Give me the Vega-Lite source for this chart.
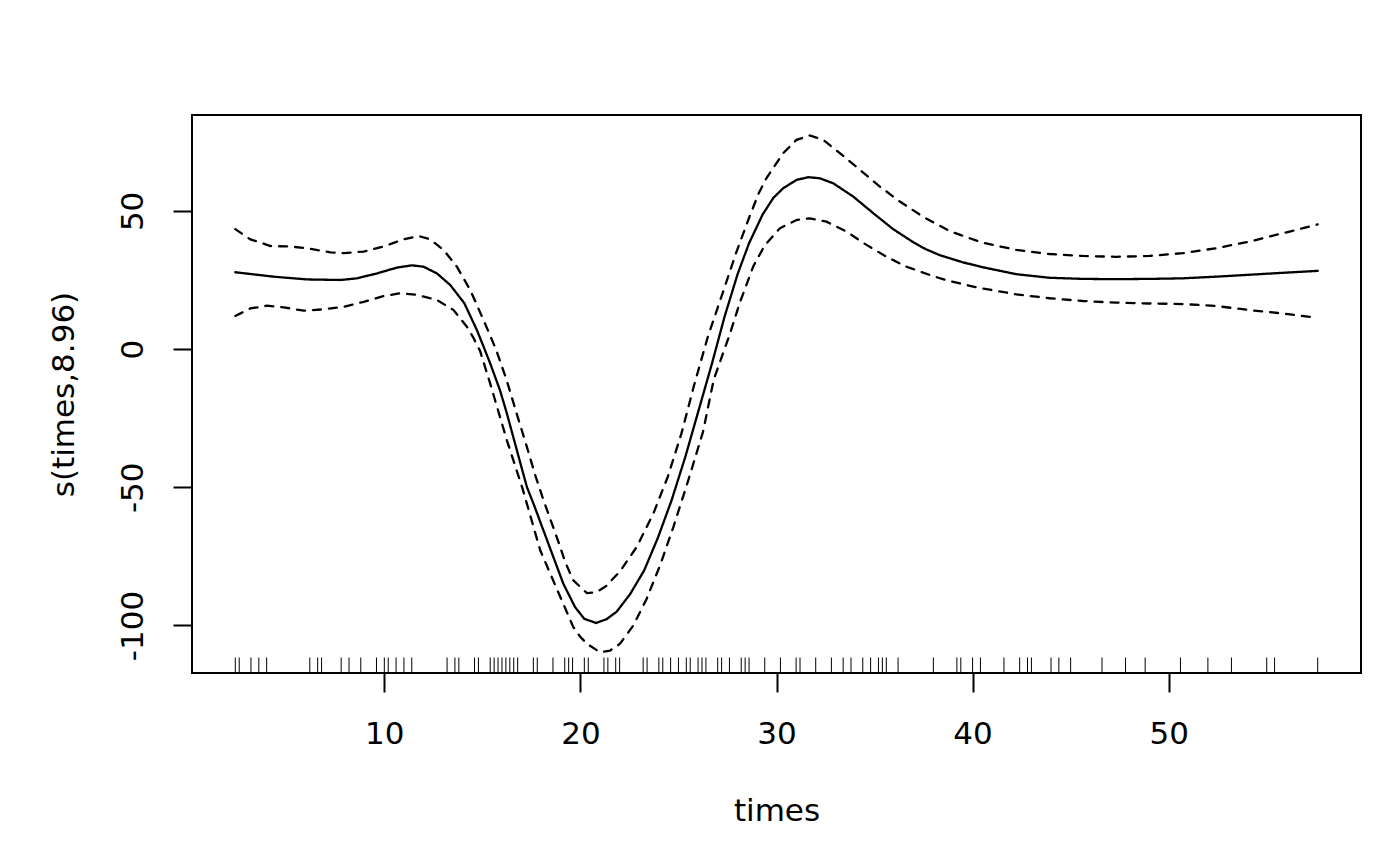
{
  "$schema": "https://vega.github.io/schema/vega-lite/v6.json",
  "width": 1169,
  "height": 558,
  "autosize": {"type": "none"},
  "padding": {"left": 192, "top": 115, "right": 39, "bottom": 193},
  "background": "white",
  "config": {
    "view": {"stroke": "black", "strokeWidth": 2},
    "font": "DejaVu Sans",
    "axis": {
      "domain": false,
      "grid": false,
      "tickColor": "black",
      "tickWidth": 2,
      "tickSize": 19,
      "labelColor": "black",
      "labelFont": "DejaVu Sans",
      "labelFontSize": 31,
      "titleColor": "black",
      "titleFont": "DejaVu Sans",
      "titleFontSize": 31,
      "titleFontWeight": "normal"
    }
  },
  "datasets": {
    "smooth": [
      {"times": 2.4, "value": 27.8, "curve": "fit"},
      {"times": 4.36, "value": 26.2, "curve": "fit"},
      {"times": 6.06, "value": 25.2, "curve": "fit"},
      {"times": 7.76, "value": 25.0, "curve": "fit"},
      {"times": 8.61, "value": 25.6, "curve": "fit"},
      {"times": 9.63, "value": 27.4, "curve": "fit"},
      {"times": 10.65, "value": 29.5, "curve": "fit"},
      {"times": 11.41, "value": 30.3, "curve": "fit"},
      {"times": 12.0, "value": 29.8, "curve": "fit"},
      {"times": 12.68, "value": 27.4, "curve": "fit"},
      {"times": 13.36, "value": 23.2, "curve": "fit"},
      {"times": 14.08, "value": 16.6, "curve": "fit"},
      {"times": 14.72, "value": 6.9, "curve": "fit"},
      {"times": 15.06, "value": 0.9, "curve": "fit"},
      {"times": 15.4, "value": -5.2, "curve": "fit"},
      {"times": 15.9, "value": -14.9, "curve": "fit"},
      {"times": 16.25, "value": -23.3, "curve": "fit"},
      {"times": 16.76, "value": -36.6, "curve": "fit"},
      {"times": 17.27, "value": -49.9, "curve": "fit"},
      {"times": 17.6, "value": -55.8, "curve": "fit"},
      {"times": 18.46, "value": -72.2, "curve": "fit"},
      {"times": 19.13, "value": -84.9, "curve": "fit"},
      {"times": 19.73, "value": -93.4, "curve": "fit"},
      {"times": 20.2, "value": -97.6, "curve": "fit"},
      {"times": 20.8, "value": -99.1, "curve": "fit"},
      {"times": 21.34, "value": -97.7, "curve": "fit"},
      {"times": 21.85, "value": -95.0, "curve": "fit"},
      {"times": 22.53, "value": -88.7, "curve": "fit"},
      {"times": 23.25, "value": -80.1, "curve": "fit"},
      {"times": 23.95, "value": -68.3, "curve": "fit"},
      {"times": 24.65, "value": -54.7, "curve": "fit"},
      {"times": 25.35, "value": -39.0, "curve": "fit"},
      {"times": 26.03, "value": -22.1, "curve": "fit"},
      {"times": 26.71, "value": -5.2, "curve": "fit"},
      {"times": 27.35, "value": 11.7, "curve": "fit"},
      {"times": 28.02, "value": 27.2, "curve": "fit"},
      {"times": 28.6, "value": 38.3, "curve": "fit"},
      {"times": 29.3, "value": 48.8, "curve": "fit"},
      {"times": 29.85, "value": 54.8, "curve": "fit"},
      {"times": 30.34, "value": 58.2, "curve": "fit"},
      {"times": 31.02, "value": 61.2, "curve": "fit"},
      {"times": 31.62, "value": 62.2, "curve": "fit"},
      {"times": 32.21, "value": 61.8, "curve": "fit"},
      {"times": 32.89, "value": 60.0, "curve": "fit"},
      {"times": 33.91, "value": 55.2, "curve": "fit"},
      {"times": 34.93, "value": 49.2, "curve": "fit"},
      {"times": 35.95, "value": 43.4, "curve": "fit"},
      {"times": 36.97, "value": 38.7, "curve": "fit"},
      {"times": 37.6, "value": 36.2, "curve": "fit"},
      {"times": 38.32, "value": 34.0, "curve": "fit"},
      {"times": 39.5, "value": 31.4, "curve": "fit"},
      {"times": 40.53, "value": 29.6, "curve": "fit"},
      {"times": 42.23, "value": 27.1, "curve": "fit"},
      {"times": 43.93, "value": 25.8, "curve": "fit"},
      {"times": 45.62, "value": 25.4, "curve": "fit"},
      {"times": 47.32, "value": 25.3, "curve": "fit"},
      {"times": 49.02, "value": 25.4, "curve": "fit"},
      {"times": 50.72, "value": 25.6, "curve": "fit"},
      {"times": 52.42, "value": 26.2, "curve": "fit"},
      {"times": 54.12, "value": 26.9, "curve": "fit"},
      {"times": 55.81, "value": 27.6, "curve": "fit"},
      {"times": 57.6, "value": 28.3, "curve": "fit"},

      {"times": 2.4, "value": 43.4, "curve": "upper"},
      {"times": 3.17, "value": 39.7, "curve": "upper"},
      {"times": 4.19, "value": 37.3, "curve": "upper"},
      {"times": 5.21, "value": 37.1, "curve": "upper"},
      {"times": 6.06, "value": 36.5, "curve": "upper"},
      {"times": 7.25, "value": 35.0, "curve": "upper"},
      {"times": 7.93, "value": 34.7, "curve": "upper"},
      {"times": 8.95, "value": 35.3, "curve": "upper"},
      {"times": 9.96, "value": 37.1, "curve": "upper"},
      {"times": 10.98, "value": 39.7, "curve": "upper"},
      {"times": 11.75, "value": 40.9, "curve": "upper"},
      {"times": 12.34, "value": 39.7, "curve": "upper"},
      {"times": 13.02, "value": 35.9, "curve": "upper"},
      {"times": 13.7, "value": 29.8, "curve": "upper"},
      {"times": 14.38, "value": 21.4, "curve": "upper"},
      {"times": 15.06, "value": 10.5, "curve": "upper"},
      {"times": 15.7, "value": -0.2, "curve": "upper"},
      {"times": 16.25, "value": -11.5, "curve": "upper"},
      {"times": 16.8, "value": -24.5, "curve": "upper"},
      {"times": 17.27, "value": -35.4, "curve": "upper"},
      {"times": 17.69, "value": -45.5, "curve": "upper"},
      {"times": 18.12, "value": -54.7, "curve": "upper"},
      {"times": 18.97, "value": -71.6, "curve": "upper"},
      {"times": 19.22, "value": -77.0, "curve": "upper"},
      {"times": 19.64, "value": -83.7, "curve": "upper"},
      {"times": 20.33, "value": -88.3, "curve": "upper"},
      {"times": 20.83, "value": -87.9, "curve": "upper"},
      {"times": 21.3, "value": -85.8, "curve": "upper"},
      {"times": 22.02, "value": -80.4, "curve": "upper"},
      {"times": 22.87, "value": -71.6, "curve": "upper"},
      {"times": 23.72, "value": -59.5, "curve": "upper"},
      {"times": 24.45, "value": -46.3, "curve": "upper"},
      {"times": 25.15, "value": -30.6, "curve": "upper"},
      {"times": 25.8, "value": -13.0, "curve": "upper"},
      {"times": 26.5, "value": 4.5, "curve": "upper"},
      {"times": 27.25, "value": 20.2, "curve": "upper"},
      {"times": 27.95, "value": 35.0, "curve": "upper"},
      {"times": 28.6, "value": 47.5, "curve": "upper"},
      {"times": 29.1, "value": 56.5, "curve": "upper"},
      {"times": 29.5, "value": 62.0, "curve": "upper"},
      {"times": 30.34, "value": 70.9, "curve": "upper"},
      {"times": 31.02, "value": 75.7, "curve": "upper"},
      {"times": 31.7, "value": 77.3, "curve": "upper"},
      {"times": 32.38, "value": 75.7, "curve": "upper"},
      {"times": 33.23, "value": 70.9, "curve": "upper"},
      {"times": 34.25, "value": 64.9, "curve": "upper"},
      {"times": 35.27, "value": 58.8, "curve": "upper"},
      {"times": 36.29, "value": 53.4, "curve": "upper"},
      {"times": 37.47, "value": 47.9, "curve": "upper"},
      {"times": 38.83, "value": 42.7, "curve": "upper"},
      {"times": 40.45, "value": 38.6, "curve": "upper"},
      {"times": 42.23, "value": 35.9, "curve": "upper"},
      {"times": 43.93, "value": 34.4, "curve": "upper"},
      {"times": 45.62, "value": 33.7, "curve": "upper"},
      {"times": 47.32, "value": 33.4, "curve": "upper"},
      {"times": 49.02, "value": 33.7, "curve": "upper"},
      {"times": 50.72, "value": 34.7, "curve": "upper"},
      {"times": 52.42, "value": 36.5, "curve": "upper"},
      {"times": 54.12, "value": 38.9, "curve": "upper"},
      {"times": 55.81, "value": 41.9, "curve": "upper"},
      {"times": 57.6, "value": 45.1, "curve": "upper"},

      {"times": 2.4, "value": 12.0, "curve": "lower"},
      {"times": 3.17, "value": 14.7, "curve": "lower"},
      {"times": 4.02, "value": 15.7, "curve": "lower"},
      {"times": 4.87, "value": 15.1, "curve": "lower"},
      {"times": 5.89, "value": 13.9, "curve": "lower"},
      {"times": 6.91, "value": 14.4, "curve": "lower"},
      {"times": 7.93, "value": 15.3, "curve": "lower"},
      {"times": 8.95, "value": 17.1, "curve": "lower"},
      {"times": 9.96, "value": 19.2, "curve": "lower"},
      {"times": 10.82, "value": 20.2, "curve": "lower"},
      {"times": 11.67, "value": 19.6, "curve": "lower"},
      {"times": 12.68, "value": 17.8, "curve": "lower"},
      {"times": 13.53, "value": 14.1, "curve": "lower"},
      {"times": 14.21, "value": 8.1, "curve": "lower"},
      {"times": 14.55, "value": 4.0, "curve": "lower"},
      {"times": 14.89, "value": -0.8, "curve": "lower"},
      {"times": 15.4, "value": -12.5, "curve": "lower"},
      {"times": 16.25, "value": -33.0, "curve": "lower"},
      {"times": 17.05, "value": -50.5, "curve": "lower"},
      {"times": 17.95, "value": -72.8, "curve": "lower"},
      {"times": 18.75, "value": -86.0, "curve": "lower"},
      {"times": 19.64, "value": -100.6, "curve": "lower"},
      {"times": 19.98, "value": -104.0, "curve": "lower"},
      {"times": 20.33, "value": -106.6, "curve": "lower"},
      {"times": 21.0, "value": -109.7, "curve": "lower"},
      {"times": 21.51, "value": -109.1, "curve": "lower"},
      {"times": 22.02, "value": -106.6, "curve": "lower"},
      {"times": 22.7, "value": -100.0, "curve": "lower"},
      {"times": 23.38, "value": -90.3, "curve": "lower"},
      {"times": 24.06, "value": -78.3, "curve": "lower"},
      {"times": 24.74, "value": -64.4, "curve": "lower"},
      {"times": 25.5, "value": -47.5, "curve": "lower"},
      {"times": 26.25, "value": -30.0, "curve": "lower"},
      {"times": 26.8, "value": -11.0, "curve": "lower"},
      {"times": 27.6, "value": 5.0, "curve": "lower"},
      {"times": 28.14, "value": 17.0, "curve": "lower"},
      {"times": 28.82, "value": 30.0, "curve": "lower"},
      {"times": 29.4, "value": 37.5, "curve": "lower"},
      {"times": 30.17, "value": 43.7, "curve": "lower"},
      {"times": 31.02, "value": 46.7, "curve": "lower"},
      {"times": 31.7, "value": 47.3, "curve": "lower"},
      {"times": 32.55, "value": 46.1, "curve": "lower"},
      {"times": 33.57, "value": 42.5, "curve": "lower"},
      {"times": 34.59, "value": 37.7, "curve": "lower"},
      {"times": 35.61, "value": 33.4, "curve": "lower"},
      {"times": 36.63, "value": 29.8, "curve": "lower"},
      {"times": 37.98, "value": 26.4, "curve": "lower"},
      {"times": 38.83, "value": 24.6, "curve": "lower"},
      {"times": 40.3, "value": 22.2, "curve": "lower"},
      {"times": 42.23, "value": 19.8, "curve": "lower"},
      {"times": 43.93, "value": 18.4, "curve": "lower"},
      {"times": 45.62, "value": 17.4, "curve": "lower"},
      {"times": 47.32, "value": 16.8, "curve": "lower"},
      {"times": 49.02, "value": 16.5, "curve": "lower"},
      {"times": 50.72, "value": 16.3, "curve": "lower"},
      {"times": 52.42, "value": 15.6, "curve": "lower"},
      {"times": 54.12, "value": 14.1, "curve": "lower"},
      {"times": 55.81, "value": 12.9, "curve": "lower"},
      {"times": 57.6, "value": 11.3, "curve": "lower"}
    ],
    "rug": [
      {"times": 2.4}, {"times": 2.6}, {"times": 3.2}, {"times": 3.6}, {"times": 4.0},
      {"times": 6.2}, {"times": 6.6}, {"times": 6.8}, {"times": 7.8}, {"times": 8.2},
      {"times": 8.8}, {"times": 9.6}, {"times": 10.0}, {"times": 10.2}, {"times": 10.6},
      {"times": 11.0}, {"times": 11.4}, {"times": 13.2}, {"times": 13.6}, {"times": 13.8},
      {"times": 14.6}, {"times": 14.8}, {"times": 15.4}, {"times": 15.6}, {"times": 15.8},
      {"times": 16.0}, {"times": 16.2}, {"times": 16.4}, {"times": 16.6}, {"times": 16.8},
      {"times": 17.6}, {"times": 17.8}, {"times": 18.6}, {"times": 19.2}, {"times": 19.4},
      {"times": 19.6}, {"times": 20.2}, {"times": 20.4}, {"times": 21.2}, {"times": 21.4},
      {"times": 21.8}, {"times": 22.0}, {"times": 23.2}, {"times": 23.4}, {"times": 24.0},
      {"times": 24.2}, {"times": 24.6}, {"times": 25.0}, {"times": 25.4}, {"times": 25.6},
      {"times": 26.0}, {"times": 26.2}, {"times": 26.4}, {"times": 27.0}, {"times": 27.2},
      {"times": 27.6}, {"times": 28.2}, {"times": 28.4}, {"times": 28.6}, {"times": 29.4},
      {"times": 30.2}, {"times": 31.0}, {"times": 31.2}, {"times": 32.0}, {"times": 32.8},
      {"times": 33.4}, {"times": 33.8}, {"times": 34.4}, {"times": 34.8}, {"times": 35.2},
      {"times": 35.4}, {"times": 35.6}, {"times": 36.2}, {"times": 38.0}, {"times": 39.2},
      {"times": 39.4}, {"times": 40.0}, {"times": 40.4}, {"times": 41.6}, {"times": 42.4},
      {"times": 42.8}, {"times": 43.0}, {"times": 44.0}, {"times": 44.4}, {"times": 45.0},
      {"times": 46.6}, {"times": 47.8}, {"times": 48.8}, {"times": 50.6}, {"times": 52.0},
      {"times": 53.2}, {"times": 55.0}, {"times": 55.4}, {"times": 57.6}
    ]
  },
  "layer": [
    {
      "data": {"name": "smooth"},
      "mark": {"type": "line", "color": "black", "strokeWidth": 2.3, "strokeCap": "round"},
      "encoding": {
        "x": {
          "field": "times",
          "type": "quantitative",
          "scale": {"domain": [0.192, 59.808], "nice": false, "zero": false},
          "axis": {
            "values": [10, 20, 30, 40, 50],
            "labelBaseline": "top",
            "labelPadding": 27,
            "title": "times",
            "titleBaseline": "alphabetic",
            "titleX": 584.5,
            "titleY": 147
          }
        },
        "y": {
          "field": "value",
          "type": "quantitative",
          "scale": {"domain": [-117.2, 84.7], "nice": false, "zero": false},
          "axis": {
            "values": [-100, -50, 0, 50],
            "labelExpr": "'' + datum.value",
            "labelAngle": -90,
            "labelAlign": "center",
            "labelBaseline": "alphabetic",
            "labelPadding": 31,
            "title": "s(times,8.96)",
            "titleAngle": -90,
            "titleAlign": "center",
            "titleBaseline": "alphabetic",
            "titleX": -119,
            "titleY": 279
          }
        },
        "strokeDash": {
          "field": "curve",
          "type": "nominal",
          "scale": {"domain": ["fit", "upper", "lower"], "range": [[1, 0], [8, 8], [8, 8]]},
          "legend": null
        }
      }
    },
    {
      "data": {"name": "rug"},
      "mark": {"type": "rule", "color": "black", "strokeWidth": 1},
      "encoding": {
        "x": {"field": "times", "type": "quantitative"},
        "y": {"datum": -117.2, "type": "quantitative"},
        "y2": {"datum": -111.6}
      }
    }
  ]
}
